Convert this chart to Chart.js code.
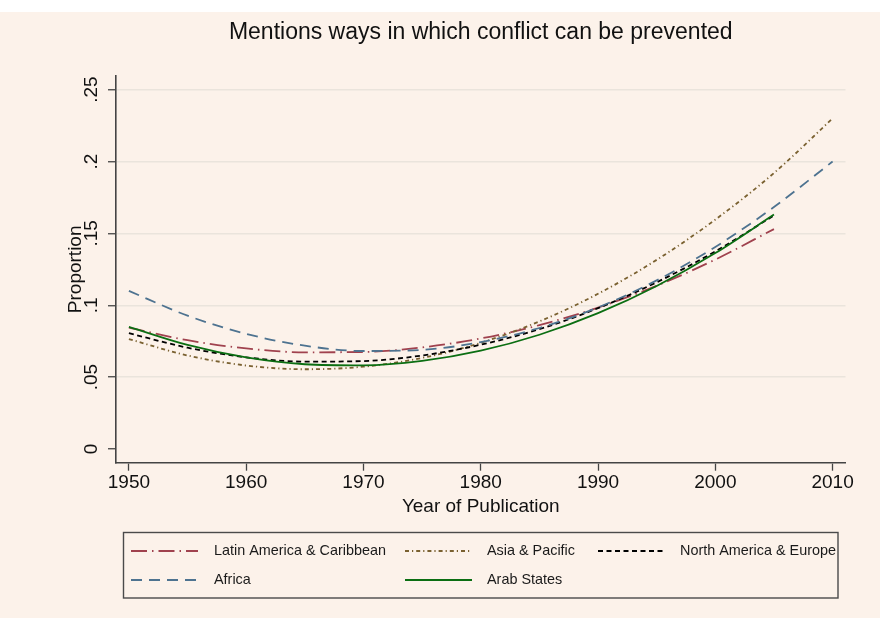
<!DOCTYPE html>
<html><head><meta charset="utf-8">
<script src="https://cdn.jsdelivr.net/npm/chart.js@4.4.0/dist/chart.umd.min.js"></script>
<style>html,body{margin:0;padding:0;background:#FCF2EA;}canvas{display:block;}</style>
</head><body>
<canvas id="c" width="880" height="618"></canvas>
<script>
const years = [1950,1955,1960,1965,1970,1975,1980,1985,1990,1995,2000,2005,2010];
const latinAmerica = [0.0845,0.0757,0.0700,0.0673,0.0675,0.0707,0.0769,0.0862,0.0984,0.1136,0.1318,0.1530,null];
const asiaPacific = [0.0765,0.0651,0.0581,0.0555,0.0573,0.0634,0.0739,0.0888,0.1080,0.1316,0.1596,0.1920,0.2300];
const northAmericaEurope = [0.0806,0.0705,0.0638,0.0608,0.0612,0.0651,0.0726,0.0834,0.0980,0.1160,0.1375,0.1625,null];
const africa = [0.1100,0.0928,0.0801,0.0719,0.0682,0.0690,0.0744,0.0842,0.0985,0.1173,0.1406,0.1684,0.2000];
const arabStates = [0.0850,0.0724,0.0637,0.0590,0.0582,0.0613,0.0684,0.0795,0.0945,0.1134,0.1363,0.1631,null];
const seriesNames = ['Latin America & Caribbean','Asia & Pacific','North America & Europe','Africa','Arab States'];
const xTickValues = [1950,1960,1970,1980,1990,2000,2010];
const yTickValues = [0,0.05,0.1,0.15,0.2,0.25];
const yTickLabels = ['0','.05','.1','.15','.2','.25'];
const chartTitle = 'Mentions ways in which conflict can be prevented';
const xTitle = 'Year of Publication';
const yTitle = 'Proportion';

const FONT = '"Liberation Sans", Arial, Helvetica, sans-serif';
const BG = '#FCF2EA';

function pts(vals){ return years.map((yr,i)=>({x:yr,y:vals[i]})).filter(p=>p.y!==null); }

const styles = [
  {color:'#A0424E', dash:[16,5,1.5,5], order:5},
  {color:'#7A6130', dash:[4,3,1.2,3], order:4},
  {color:'#000000', dash:[5,3.5], order:3},
  {color:'#4E7390', dash:[11,7], order:2},
  {color:'#0B6E12', dash:[], order:1}
];
const seriesValues = [latinAmerica, asiaPacific, northAmericaEurope, africa, arabStates];

const datasets = seriesValues.map((v,i)=>({
  label: seriesNames[i],
  data: pts(v),
  borderColor: styles[i].color,
  backgroundColor: styles[i].color,
  borderDash: styles[i].dash,
  borderWidth: 1.8,
  pointRadius: 0,
  fill: false,
  cubicInterpolationMode: 'monotone',
  order: styles[i].order
}));

const bgPlugin = {
  id:'bg',
  beforeDraw(chart){
    const c = chart.ctx; c.save();
    c.fillStyle = BG; c.fillRect(0,0,chart.width,chart.height);
    c.fillStyle = '#FFFFFF'; c.fillRect(0,0,chart.width,12);
    c.restore();
  }
};
const titleCenter = {
  id:'titleCenter',
  afterLayout(chart){
    const t = chart.titleBlock, ca = chart.chartArea;
    if (t && ca){ t.left = ca.left; t.right = ca.right; }
  }
};
const legendLayout = {box:[123.5,532.5,838,598], rows:[551,580], sampleX:[131,405,598], sampleW:67, textX:[214,487,680]};
const boxLegend = {
  id:'boxLegend',
  afterDraw(chart){
    const c = chart.ctx, L = legendLayout;
    c.save();
    c.strokeStyle = '#4a4a4a'; c.lineWidth = 1.4; c.setLineDash([]);
    c.strokeRect(L.box[0], L.box[1], L.box[2]-L.box[0], L.box[3]-L.box[1]);
    c.font = '14.4px ' + FONT; c.textBaseline = 'middle'; c.textAlign = 'left';
    chart.data.datasets.forEach((ds,i)=>{
      const col = i%3, row = Math.floor(i/3);
      const y = L.rows[row];
      c.strokeStyle = ds.borderColor; c.lineWidth = ds.borderWidth; c.setLineDash(ds.borderDash||[]);
      c.beginPath(); c.moveTo(L.sampleX[col], y); c.lineTo(L.sampleX[col]+L.sampleW, y); c.stroke();
      c.setLineDash([]);
      c.fillStyle = '#1a1a1a';
      c.fillText(ds.label, L.textX[col], y+0.5);
    });
    c.restore();
  }
};

new Chart(document.getElementById('c'), {
  type:'line',
  data:{datasets},
  options:{
    responsive:false,
    animation:false,
    devicePixelRatio:1,
    layout:{padding:{left:50,right:34.5,top:12,bottom:95.3}},
    plugins:{
      legend:{display:false},
      tooltip:{enabled:false},
      title:{display:true, text:chartTitle, color:'#111', font:{family:FONT, size:23, weight:'normal'}, padding:{top:7.2,bottom:29.2}}
    },
    scales:{
      x:{
        type:'linear', min:1948.9, max:2011.1,
        afterBuildTicks(s){ s.ticks = xTickValues.map(v=>({value:v})); },
        afterFit(s){ s.height = 60; s.paddingLeft = 0; s.paddingRight = 0; },
        ticks:{color:'#111', font:{family:FONT,size:19}, padding:1, maxRotation:0, autoSkip:false, callback:(v)=>String(v)},
        grid:{drawOnChartArea:false, drawTicks:true, tickLength:8, tickColor:'#444', tickWidth:1.3},
        border:{display:true, color:'#444', width:1.6},
        title:{display:true, text:xTitle, color:'#111', font:{family:FONT,size:19}, padding:{top:0,bottom:4.3}}
      },
      y:{
        type:'linear', min:-0.0095, max:0.2595,
        afterBuildTicks(s){ s.ticks = yTickValues.map(v=>({value:v})); },
        afterFit(s){ s.width = 66; s.paddingTop = 0; s.paddingBottom = 0; },
        ticks:{color:'#111', font:{family:FONT,size:19}, padding:3, minRotation:90, maxRotation:90, crossAlign:'center', autoSkip:false,
          callback:(v)=>{ const i = yTickValues.findIndex(t=>Math.abs(t-v)<1e-9); return i>=0 ? yTickLabels[i] : ''; }},
        grid:{drawTicks:true, tickLength:8, tickColor:'#444', tickWidth:1.3, lineWidth:1.5,
          color:(ctx)=> (ctx.tick && Math.abs(ctx.tick.value) < 1e-9) ? 'rgba(0,0,0,0)' : '#EAE4DC'},
        border:{display:true, color:'#444', width:1.6},
        title:{display:true, text:yTitle, color:'#111', font:{family:FONT,size:19}, padding:{top:14.6,bottom:0}}
      }
    }
  },
  plugins:[bgPlugin, titleCenter, boxLegend]
});
</script>
</body></html>
